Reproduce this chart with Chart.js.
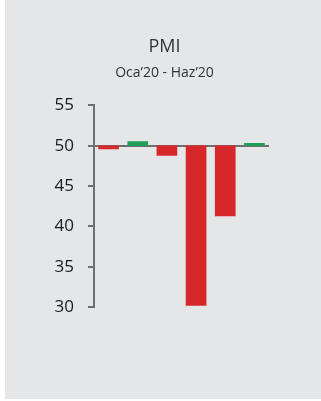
<!DOCTYPE html>
<html lang="tr">
<head>
  <meta charset="UTF-8">
  <title>PMI</title>
  <script src="https://cdn.jsdelivr.net/npm/chart.js"></script>
  <style>
    html, body { margin: 0; padding: 0; background: #fff; }
    .panel { position: absolute; left: 5px; top: 0; width: 316px; height: 399px; background: #e5e6e8; }
    .wrap { position: absolute; left: 0; top: 0; width: 321px; height: 401px; }
  </style>
</head>
<body>
<div class="panel"></div>
<div class="wrap"><canvas id="pmiChart" width="321" height="401"></canvas></div>

<script>
  // Oca'20 - Haz'20 monthly PMI
  const months = ['Oca', 'Şub', 'Mar', 'Nis', 'May', 'Haz'];
  const pmi = [49.6, 50.5, 48.8, 30.2, 41.3, 50.3];
  const baseline = 50;
  const yTicks = [30, 35, 40, 45, 50, 55];

  const RED = '#d8272b';
  const GREEN = '#1f9e58';
  const AXIS = '#6e6e6e';

  new Chart(document.getElementById('pmiChart'), {
    type: 'bar',
    data: {
      labels: months,
      datasets: [{
        data: pmi.map(v => [baseline, v]),
        backgroundColor: pmi.map(v => v >= baseline ? GREEN : RED),
        barThickness: 20,
        borderWidth: 0
      }]
    },
    options: {
      responsive: false,
      animation: false,
      layout: { padding: { left: 8, right: 0, top: 0, bottom: 94 } },
      plugins: {
        legend: { display: false },
        tooltip: { enabled: false },
        title: {
          display: true,
          text: 'PMI',
          color: '#333',
          font: { family: 'Open Sans', size: 18, weight: 'normal' },
          padding: { top: 36, bottom: 7 }
        },
        subtitle: {
          display: true,
          text: 'Oca’20 - Haz’20',
          color: '#333',
          font: { family: 'Open Sans', size: 14 },
          padding: { top: 0, bottom: 24 }
        }
      },
      scales: {
        x: { display: false },
        y: {
          min: yTicks[0],
          max: yTicks[yTicks.length - 1],
          z: 1,
          afterFit: s => { s.width = 86; },
          afterBuildTicks: s => { s.ticks = yTicks.map(v => ({ value: v })); },
          ticks: {
            color: '#1a1a1a',
            padding: 14,
            font: { family: 'Open Sans', size: 17 }
          },
          border: { color: AXIS, width: 2 },
          grid: {
            color: c => c.tick && c.tick.value === baseline ? AXIS : 'rgba(0,0,0,0)',
            tickColor: AXIS,
            lineWidth: 2,
            tickLength: 6
          }
        },
        // empty right-hand margin so the titles stay centred on the panel
        yRight: {
          position: 'right',
          min: yTicks[0],
          max: yTicks[yTicks.length - 1],
          afterFit: s => { s.width = 52; },
          ticks: { display: false },
          grid: { display: false },
          border: { display: false }
        }
      }
    }
  });
</script>
</body>
</html>
